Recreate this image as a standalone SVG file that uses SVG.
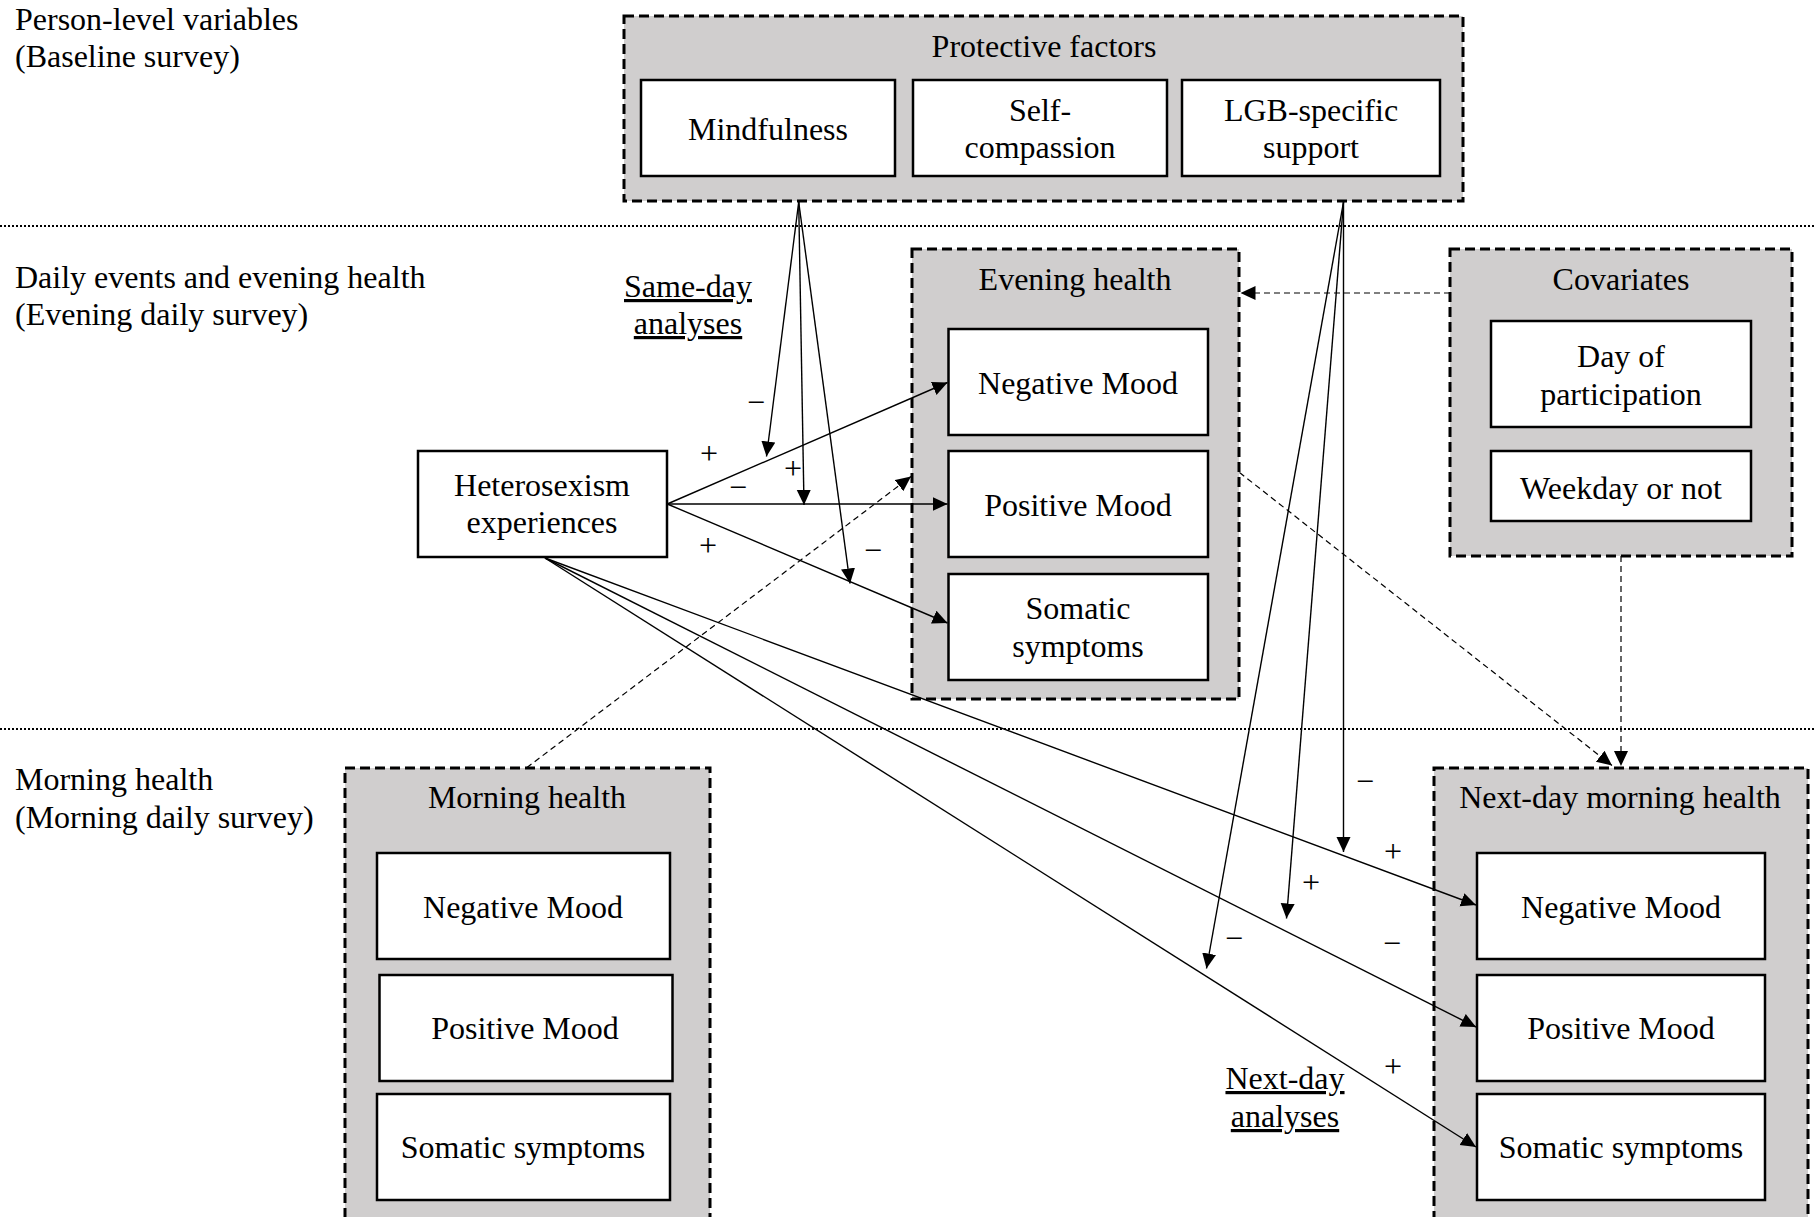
<svg xmlns="http://www.w3.org/2000/svg" width="1815" height="1217" viewBox="0 0 1815 1217">
<defs>
<style>
text{font-family:"Liberation Serif","Times New Roman",serif;font-size:32px;fill:#000}
.c{text-anchor:middle}
.grp{fill:#d0cece;stroke:#000;stroke-width:3;stroke-dasharray:10 5}
.box{fill:#fff;stroke:#000;stroke-width:2.5}
.sep{stroke:#000;stroke-width:2;stroke-dasharray:2 2;fill:none}
.ar{stroke:#000;stroke-width:1.4;fill:none;marker-end:url(#ah)}
.da{stroke:#000;stroke-width:1.2;fill:none;stroke-dasharray:6 4;marker-end:url(#ah)}
</style>
<marker id="ah" markerUnits="userSpaceOnUse" markerWidth="16" markerHeight="16" refX="15" refY="7" orient="auto">
<path d="M0,0 L15,7 L0,14 z" fill="#000"/>
</marker>
</defs>
<rect width="1815" height="1217" fill="#fff"/>

<g id="level-labels">
<text x="15" y="30">Person-level variables</text>
<text x="15" y="67">(Baseline survey)</text>
<text x="15" y="288">Daily events and evening health</text>
<text x="15" y="325">(Evening daily survey)</text>
<text x="15" y="790">Morning health</text>
<text x="15" y="828">(Morning daily survey)</text>
</g>

<g id="separators">
<line class="sep" x1="0" y1="226" x2="1815" y2="226"/>
<line class="sep" x1="0" y1="729" x2="1815" y2="729"/>
</g>

<g id="protective-factors">
<rect class="grp" x="624" y="16" width="839" height="185"/>
<text class="c" x="1044" y="57">Protective factors</text>
<g id="mindfulness">
<rect class="box" x="641" y="80" width="254" height="96"/>
<text class="c" x="768" y="140">Mindfulness</text>
</g>
<g id="self-compassion">
<rect class="box" x="913" y="80" width="254" height="96"/>
<text class="c" x="1040" y="121">Self-</text>
<text class="c" x="1040" y="158">compassion</text>
</g>
<g id="lgb-support">
<rect class="box" x="1182" y="80" width="258" height="96"/>
<text class="c" x="1311" y="121">LGB-specific</text>
<text class="c" x="1311" y="158">support</text>
</g>
</g>

<g id="heterosexism">
<rect class="box" x="418" y="451" width="249" height="106"/>
<text class="c" x="542" y="496">Heterosexism</text>
<text class="c" x="542" y="533">experiences</text>
</g>

<g id="evening-health">
<rect class="grp" x="912" y="249" width="327" height="450"/>
<text class="c" x="1075" y="290">Evening health</text>
<g id="eve-negative">
<rect class="box" x="948.5" y="329" width="259.5" height="106"/>
<text class="c" x="1078" y="394">Negative Mood</text>
</g>
<g id="eve-positive">
<rect class="box" x="948.5" y="451" width="259.5" height="106"/>
<text class="c" x="1078" y="516">Positive Mood</text>
</g>
<g id="eve-somatic">
<rect class="box" x="948.5" y="574" width="259.5" height="106"/>
<text class="c" x="1078" y="619">Somatic</text>
<text class="c" x="1078" y="657">symptoms</text>
</g>
</g>

<g id="covariates">
<rect class="grp" x="1450" y="249" width="342" height="307"/>
<text class="c" x="1621" y="290">Covariates</text>
<g id="day-of-participation">
<rect class="box" x="1491" y="321" width="260" height="106"/>
<text class="c" x="1621" y="367">Day of</text>
<text class="c" x="1621" y="405">participation</text>
</g>
<g id="weekday">
<rect class="box" x="1491" y="451" width="260" height="70"/>
<text class="c" x="1621" y="499">Weekday or not</text>
</g>
</g>

<g id="morning-health">
<rect class="grp" x="345" y="768" width="365" height="460"/>
<text class="c" x="527" y="808">Morning health</text>
<g id="morn-negative">
<rect class="box" x="377" y="853" width="293" height="106"/>
<text class="c" x="523" y="918">Negative Mood</text>
</g>
<g id="morn-positive">
<rect class="box" x="379.5" y="975" width="293" height="106"/>
<text class="c" x="525" y="1039">Positive Mood</text>
</g>
<g id="morn-somatic">
<rect class="box" x="377" y="1094" width="293" height="106"/>
<text class="c" x="523" y="1158">Somatic symptoms</text>
</g>
</g>

<g id="next-day-morning-health">
<rect class="grp" x="1434" y="768" width="374" height="460"/>
<text class="c" x="1620" y="808">Next-day morning health</text>
<g id="next-negative">
<rect class="box" x="1477" y="853" width="288" height="106"/>
<text class="c" x="1621" y="918">Negative Mood</text>
</g>
<g id="next-positive">
<rect class="box" x="1477" y="975" width="288" height="106"/>
<text class="c" x="1621" y="1039">Positive Mood</text>
</g>
<g id="next-somatic">
<rect class="box" x="1477" y="1094" width="288" height="106"/>
<text class="c" x="1621" y="1158">Somatic symptoms</text>
</g>
</g>

<g id="connectors">
<path class="ar" d="M667.3,504 L947.5,382.5"/>
<path class="ar" d="M667.3,504 L947.5,504"/>
<path class="ar" d="M667.3,504 L947.5,623"/>
<path class="ar" d="M798.7,202 L766.5,456.5"/>
<path class="ar" d="M798.7,202 L804,505"/>
<path class="ar" d="M798.7,202 L850,583.5"/>
<path class="ar" d="M1343.5,202 L1343.5,852"/>
<path class="ar" d="M1343.5,202 L1286.5,918.5"/>
<path class="ar" d="M1343.5,202 L1206.5,968.5"/>
<path class="ar" d="M545,558 L1476,905"/>
<path class="ar" d="M545,558 L1476,1027"/>
<path class="ar" d="M545,558 L1476,1147"/>
<path class="da" d="M1450,293 L1240.5,293"/>
<path class="da" d="M526.7,767.7 L911,476.5"/>
<path class="da" d="M1239.5,472.5 L1612,765.5"/>
<path class="da" d="M1621,556 L1621,766"/>
</g>

<g id="connector-labels">
<text class="c" x="688" y="297" text-decoration="underline">Same-day</text>
<text class="c" x="688" y="334" text-decoration="underline">analyses</text>
<text class="c" x="1285" y="1089" text-decoration="underline">Next-day</text>
<text class="c" x="1285" y="1127" text-decoration="underline">analyses</text>
<text class="c" x="756" y="413">−</text>
<text class="c" x="709" y="464">+</text>
<text class="c" x="793" y="479">+</text>
<text class="c" x="738" y="498">−</text>
<text class="c" x="708" y="556">+</text>
<text class="c" x="873" y="561">−</text>
<text class="c" x="1365" y="792">−</text>
<text class="c" x="1393" y="862">+</text>
<text class="c" x="1311" y="893">+</text>
<text class="c" x="1234" y="949">−</text>
<text class="c" x="1392" y="954">−</text>
<text class="c" x="1393" y="1077">+</text>
</g>
</svg>
